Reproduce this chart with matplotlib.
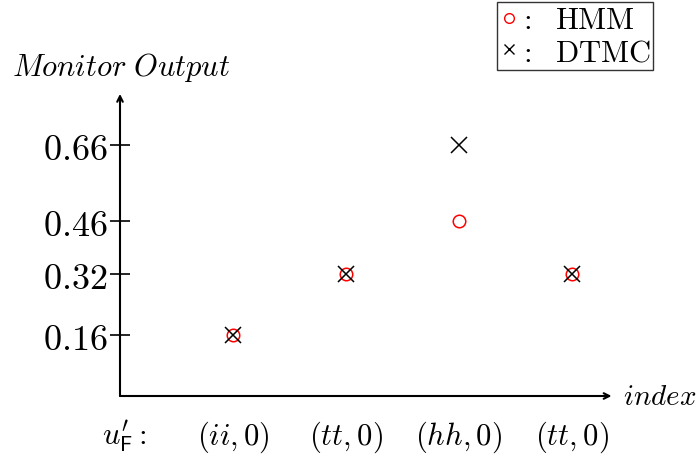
import matplotlib
matplotlib.use("Agg")
import matplotlib.pyplot as plt
from matplotlib.lines import Line2D

plt.rcParams['mathtext.fontset'] = 'cm'
plt.rcParams['font.family'] = ['DejaVu Serif']

x_labels = ["(ii,0)", "(tt,0)", "(hh,0)", "(tt,0)"]
x_pos = [1, 2, 3, 4]
hmm = [0.16, 0.32, 0.46, 0.32]
dtmc = [0.16, 0.32, 0.66, 0.32]
y_ticks = [0.16, 0.32, 0.46, 0.66]

W, H = 698, 456
fig = plt.figure(figsize=(W / 100, H / 100), dpi=100)
x0, y0 = 120, 397
xmax, ymax = 4.35, 0.795
ax = fig.add_axes([x0 / W, (H - y0) / H, (113 * xmax) / W, (380 * ymax) / H])
ax.set_xlim(0, xmax)
ax.set_ylim(0, ymax)
for s in ['top', 'right', 'bottom', 'left']:
    ax.spines[s].set_visible(False)

ax.annotate('', xy=(xmax, 0), xytext=(0, 0), xycoords='data',
            arrowprops=dict(arrowstyle='->', lw=1.5, color='black', shrinkA=0, shrinkB=0),
            annotation_clip=False)
ax.annotate('', xy=(0, ymax), xytext=(0, 0), xycoords='data',
            arrowprops=dict(arrowstyle='->', lw=1.5, color='black', shrinkA=0, shrinkB=0),
            annotation_clip=False)

ax.set_xticks([])
ax.set_yticks(y_ticks)
ax.set_yticklabels([f"${v:.2f}$" for v in y_ticks], fontsize=26)
ax.tick_params(axis='y', direction='inout', length=14, width=1.2, pad=2)

ax.plot(x_pos, hmm, linestyle='none', marker='o', markersize=9, markerfacecolor='none',
        markeredgecolor='red', markeredgewidth=1.1, zorder=3)
ax.plot(x_pos, dtmc, linestyle='none', marker='x', markersize=11, color='black',
        markeredgewidth=1.1, zorder=4)

for xp, lab in zip(x_pos, x_labels):
    ax.text(xp, -0.105, f"${lab}$", ha='center', va='center', fontsize=22)
ax.text(0.24, -0.105, r"$u_{\mathsf{F}}^{\prime}:$", ha='right', va='center', fontsize=22)

ax.text(xmax + 0.1, 0, r"$index$", ha='left', va='center', fontsize=21)
fig.text(12 / W, 1 - 68 / H, r"$Monitor\ Output$", ha='left', va='center', fontsize=22)

handles = [Line2D([], [], linestyle='none', marker='o', markersize=7, markerfacecolor='none',
                  markeredgecolor='red', markeredgewidth=1.0),
           Line2D([], [], linestyle='none', marker='x', markersize=7, color='black',
                  markeredgewidth=1.0)]
leg = fig.legend(handles, [r"$\mathrm{:}\ \ \mathrm{HMM}$", r"$\mathrm{:}\ \ \mathrm{DTMC}$"],
                 loc='upper left', bbox_to_anchor=(497 / W, 1 - 3 / H),
                 fontsize=22, frameon=True, fancybox=False, handlelength=0.6,
                 handletextpad=0.0, borderpad=0.08, labelspacing=0.02, borderaxespad=0)
leg.get_frame().set_edgecolor('black')
leg.get_frame().set_linewidth(1.0)

fig.savefig("out.png", dpi=100)
